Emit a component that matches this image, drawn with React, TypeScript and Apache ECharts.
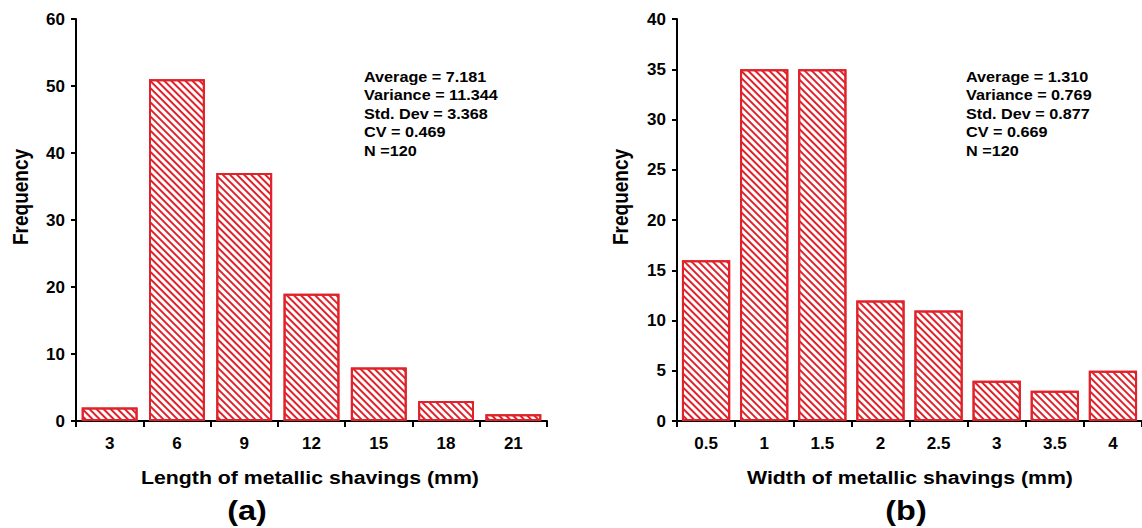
import React, { useEffect, useRef } from "react";
import * as echarts from "echarts";

const lengthCategories = ["3", "6", "9", "12", "15", "18", "21"];
const lengthFrequency = [2, 51, 37, 19, 8, 3, 1];
const widthCategories = ["0.5", "1", "1.5", "2", "2.5", "3", "3.5", "4"];
const widthFrequency = [16, 35, 35, 12, 11, 4, 3, 5];
const lengthStats = ["Average = 7.181", "Variance = 11.344", "Std. Dev = 3.368", "CV = 0.469", "N =120"];
const widthStats = ["Average = 1.310", "Variance = 0.769", "Std. Dev = 0.877", "CV = 0.669", "N =120"];
const lengthAxisName = "Length of metallic shavings (mm)";
const widthAxisName = "Width of metallic shavings (mm)";
const yAxisName = "Frequency";

const RED = "#e0222b";
const FONT = "'Liberation Sans', Arial, sans-serif";
const STRETCH = 1.12;

function barItemStyle() {
  return {
    color: "#ffffff",
    borderColor: RED,
    borderWidth: 2,
    decal: {
      symbol: "rect",
      symbolSize: 1,
      dashArrayX: [1, 0],
      dashArrayY: [1.4, 2.8],
      rotation: Math.PI / 4,
      color: RED,
      backgroundColor: "#ffffff",
    },
  };
}

function xAxisCfg(gridIndex: number, data: string[]) {
  return {
    type: "category",
    gridIndex,
    data,
    axisLine: { lineStyle: { color: "#000", width: 2 } },
    axisTick: { show: true, length: 6, lineStyle: { color: "#000", width: 2 } },
    axisLabel: { fontFamily: FONT, fontWeight: "bold", fontSize: 17, color: "#000", margin: 14 },
    splitLine: { show: false },
  };
}

function yAxisCfg(gridIndex: number, max: number, interval: number) {
  return {
    type: "value",
    gridIndex,
    min: 0,
    max,
    interval,
    axisLine: { show: true, lineStyle: { color: "#000", width: 2 } },
    axisTick: { show: true, length: 5, lineStyle: { color: "#000", width: 2 } },
    axisLabel: { fontFamily: FONT, fontWeight: "bold", fontSize: 17, color: "#000", margin: 11 },
    splitLine: { show: false },
  };
}

function label(text: string, x: number, y: number, size: number, align: string, extra: any = {}) {
  return {
    type: "text",
    x,
    y,
    scaleX: STRETCH,
    style: {
      text,
      font: `bold ${size}px ${FONT}`,
      fill: "#000",
      align,
      verticalAlign: "middle",
    },
    ...extra,
  };
}

export default function App() {
  const ref = useRef<HTMLDivElement>(null);
  useEffect(() => {
    if (!ref.current) return;
    const chart = echarts.init(ref.current, undefined, { renderer: "svg" });
    chart.setOption({
      animation: false,
      backgroundColor: "#ffffff",
      grid: [
        { left: 76, top: 19, width: 471, height: 402 },
        { left: 677, top: 19, width: 471, height: 402 },
      ],
      xAxis: [xAxisCfg(0, lengthCategories), xAxisCfg(1, widthCategories)],
      yAxis: [yAxisCfg(0, 60, 10), yAxisCfg(1, 40, 5)],
      series: [
        {
          type: "bar",
          xAxisIndex: 0,
          yAxisIndex: 0,
          data: lengthFrequency,
          barCategoryGap: "17%",
          itemStyle: barItemStyle(),
        },
        {
          type: "bar",
          xAxisIndex: 1,
          yAxisIndex: 1,
          data: widthFrequency,
          barCategoryGap: "17%",
          itemStyle: barItemStyle(),
        },
      ],
      graphic: [
        {
          type: "text",
          x: 364,
          y: 67,
          scaleX: 1.08,
          style: {
            text: lengthStats.join("\n"),
            font: `bold 15px ${FONT}`,
            lineHeight: 18.5,
            fill: "#000",
          },
        },
        {
          type: "text",
          x: 966,
          y: 67,
          scaleX: 1.08,
          style: {
            text: widthStats.join("\n"),
            font: `bold 15px ${FONT}`,
            lineHeight: 18.5,
            fill: "#000",
          },
        },
        label(lengthAxisName, 310, 477, 19, "center"),
        label(widthAxisName, 910, 477, 19, "center"),
        {
          type: "text",
          x: 21,
          y: 197,
          rotation: Math.PI / 2,
          scaleY: STRETCH,
          style: {
            text: yAxisName,
            font: `bold 19px ${FONT}`,
            fill: "#000",
            align: "center",
            verticalAlign: "middle",
          },
        },
        {
          type: "text",
          x: 621,
          y: 197,
          rotation: Math.PI / 2,
          scaleY: STRETCH,
          style: {
            text: yAxisName,
            font: `bold 19px ${FONT}`,
            fill: "#000",
            align: "center",
            verticalAlign: "middle",
          },
        },
        label("(a)", 247, 510, 27, "center", { scaleX: 1.2 }),
        label("(b)", 906, 510, 27, "center", { scaleX: 1.2 }),
      ],
    });
    return () => chart.dispose();
  }, []);
  return (
    <div
      ref={ref}
      style={{ position: "fixed", left: 0, top: 0, width: 1142, height: 528, background: "#fff" }}
    />
  );
}
